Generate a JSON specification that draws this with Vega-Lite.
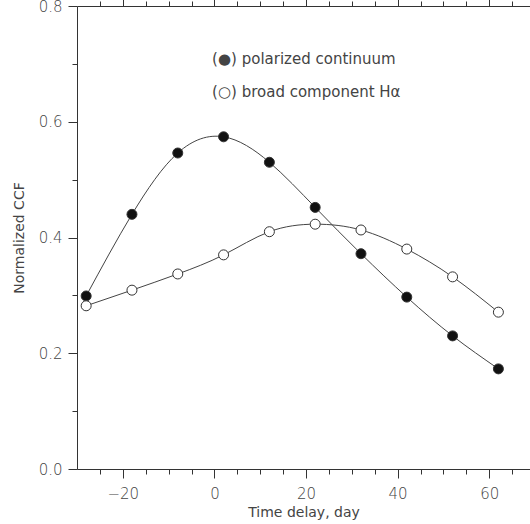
{
  "$schema": "https://vega.github.io/schema/vega-lite/v6.json",
  "width": 453,
  "height": 463,
  "autosize": "none",
  "padding": {"left": 77, "top": 6, "right": 0, "bottom": 55},
  "config": {
    "view": {"stroke": null},
    "font": "DejaVu Sans",
    "axis": {"grid": false, "domainColor": "#333", "tickColor": "#333", "labelColor": "#444", "titleColor": "#444", "labelFontSize": 15, "titleFontSize": 14, "titleFontWeight": "normal", "labelFontWeight": 300, "tickDirection": "inside"}
  },
  "datasets": {
    "pts": [
      {"t": -28, "ccf": 0.299, "s": "pol"}, {"t": -18, "ccf": 0.44, "s": "pol"}, {"t": -8, "ccf": 0.546, "s": "pol"},
      {"t": 2, "ccf": 0.574, "s": "pol"}, {"t": 12, "ccf": 0.53, "s": "pol"}, {"t": 22, "ccf": 0.452, "s": "pol"},
      {"t": 32, "ccf": 0.372, "s": "pol"}, {"t": 42, "ccf": 0.297, "s": "pol"}, {"t": 52, "ccf": 0.23, "s": "pol"},
      {"t": 62, "ccf": 0.173, "s": "pol"},
      {"t": -28, "ccf": 0.282, "s": "ha"}, {"t": -18, "ccf": 0.309, "s": "ha"}, {"t": -8, "ccf": 0.337, "s": "ha"},
      {"t": 2, "ccf": 0.37, "s": "ha"}, {"t": 12, "ccf": 0.41, "s": "ha"}, {"t": 22, "ccf": 0.423, "s": "ha"},
      {"t": 32, "ccf": 0.413, "s": "ha"}, {"t": 42, "ccf": 0.38, "s": "ha"}, {"t": 52, "ccf": 0.332, "s": "ha"},
      {"t": 62, "ccf": 0.271, "s": "ha"}
    ],
    "leg": [
      {"t": -0.5, "ccf": 0.708, "label": "(●) polarized continuum"},
      {"t": -0.5, "ccf": 0.652, "label": "(○) broad component Hα"}
    ]
  },
  "layer": [
    {
      "data": {"name": "pts"},
      "mark": {"type": "line", "interpolate": "natural", "color": "#444", "strokeWidth": 1, "clip": true},
      "encoding": {
        "x": {"field": "t", "type": "quantitative", "scale": {"domain": [-30, 68.9], "nice": false, "zero": false},
          "axis": {"values": [-25, -20, -15, -10, -5, 0, 5, 10, 15, 20, 25, 30, 35, 40, 45, 50, 55, 60, 65],
            "labelExpr": "datum.value % 20 == 0 ? format(datum.value, 'd') : ''",
            "tickSize": {"condition": {"test": "datum.value % 20 == 0", "value": 9}, "value": 5},
            "title": "Time delay, day", "labelPadding": 8, "titlePadding": 4}},
        "y": {"field": "ccf", "type": "quantitative", "scale": {"domain": [0, 0.8], "nice": false},
          "axis": {"values": [0, 0.05, 0.1, 0.15, 0.2, 0.25, 0.3, 0.35, 0.4, 0.45, 0.5, 0.55, 0.6, 0.65, 0.7, 0.75, 0.8],
            "labelExpr": "abs(datum.value*5 - round(datum.value*5)) < 0.001 ? format(datum.value, '.1f') : ''",
            "tickSize": {"condition": {"test": "abs(datum.value*5 - round(datum.value*5)) < 0.001", "value": 9}, "value": 5},
            "title": "Normalized CCF", "labelPadding": 6, "titlePadding": 12}},
        "detail": {"field": "s"}
      }
    },
    {
      "data": {"name": "pts"},
      "mark": {"type": "point", "size": 100, "strokeWidth": 1, "opacity": 1},
      "encoding": {
        "x": {"field": "t", "type": "quantitative", "scale": {"domain": [-30, 68.9], "nice": false, "zero": false}, "axis": null},
        "y": {"field": "ccf", "type": "quantitative"},
        "fill": {"field": "s", "type": "nominal", "scale": {"domain": ["pol", "ha"], "range": ["#111", "#fff"]}, "legend": null},
        "stroke": {"value": "#333"}
      }
    },
    {
      "data": {"name": "leg"},
      "mark": {"type": "text", "align": "left", "fontSize": 15, "color": "#444"},
      "encoding": {
        "x": {"field": "t", "type": "quantitative", "scale": {"domain": [-30, 68.9], "nice": false, "zero": false},
          "axis": {"orient": "top", "values": [-25, -20, -15, -10, -5, 0, 5, 10, 15, 20, 25, 30, 35, 40, 45, 50, 55, 60, 65], "labels": false, "title": null,
            "tickSize": {"condition": {"test": "datum.value % 20 == 0", "value": 9}, "value": 5}}},
        "y": {"field": "ccf", "type": "quantitative"},
        "text": {"field": "label"}
      }
    }
  ],
  "resolve": {"scale": {"x": "independent"}, "axis": {"x": "independent"}}
}
